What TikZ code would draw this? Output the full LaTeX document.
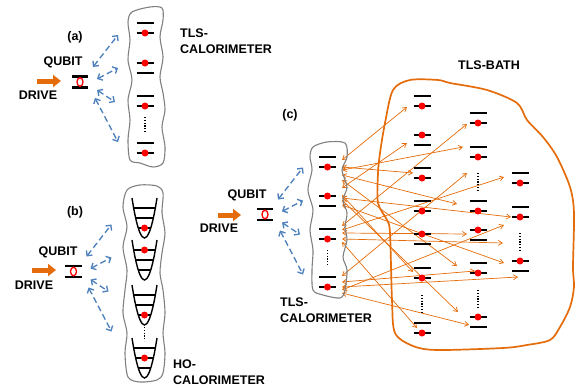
\documentclass[tikz,border=0pt]{standalone}
\usepackage{fontspec}
\setmainfont{Liberation Sans}
\usetikzlibrary{positioning,arrows.meta}

\definecolor{driveorange}{RGB}{228,108,10}
\definecolor{couplingblue}{RGB}{79,129,189}
\definecolor{blobgray}{RGB}{128,128,128}

\tikzset{
  lbl/.style={font=\fontsize{12.5}{16.5}\selectfont\bfseries, inner sep=0pt},
  level/.style={line width=2.7pt},
  well/.style={line width=1.4pt},
  gap/.style={line width=1.7pt, dash pattern=on 1.2pt off 1.6pt},
  coupling/.style={{Straight Barb[length=3.8pt,width=7.5pt]}-{Straight Barb[length=3.8pt,width=7.5pt]},
    couplingblue, line width=1.35pt, dash pattern=on 6pt off 3.5pt},
  exchange/.style={{Straight Barb[length=4pt,width=5pt]}-{Straight Barb[length=4pt,width=5pt]},
    driveorange, line width=0.7pt},
  pump/.style={-{Triangle[length=8pt,width=12pt]}, driveorange, line width=5pt},
  blob/.style={blobgray, line width=1.1pt},
  bathline/.style={driveorange, line width=1.7pt},
}

% pair of levels: name, x, y of upper level, dot on upper (0) or lower (1)
\newcommand{\tlspair}[4]{%
  \coordinate (#1) at (#2,#3+5);
  \draw[level] (#2-8.5,#3) -- (#2+8.5,#3);
  \draw[level] (#2-8.5,#3+10) -- (#2+8.5,#3+10);
  \fill[red] (#2,#3+10*#4) circle (3.5);
}
% oscillator well: x, top, occupied level (1..3)
\newcommand{\howell}[3]{%
  \draw[well] (#1-12.5,#2) parabola bend (#1,#2+40) (#1+12.5,#2);
  \foreach \dd in {10,20,30}
    \draw[well] ({#1-12.5*sqrt((40-\dd)/40)},#2+\dd) -- ({#1+12.5*sqrt((40-\dd)/40)},#2+\dd);
  \fill[red] (#1,#2+10*#3) circle (3.5);
}
\newcommand{\levelgap}[3]{\draw[gap] (#1,#2) -- (#1,#3);}
% qubit with its four couplings
\newcommand{\qubit}[3]{%
  \node (#1) at (#2,#3) [minimum width=16pt, minimum height=10.5pt, inner sep=0pt] {};
  \draw[level] (#1.north west) -- (#1.north east);
  \draw[level] (#1.south west) -- (#1.south east);
  \draw[red, line width=1.3pt] (#1.center) ellipse (3 and 4.3);
  \foreach \sx/\sy/\ex/\ey [count=\i] in {13/-15/38/-47, 17/-3/38/-14, 17/8/35/20, 15/16/38/60}{
    \coordinate (#1-s\i) at ([shift={(\sx,\sy)}]#1.center);
    \coordinate (#1-e\i) at ([shift={(\ex,\ey)}]#1.center);
    \draw[coupling] (#1-s\i) -- (#1-e\i);
  }
}

\begin{document}
\begin{tikzpicture}[x=1pt, y=-1pt]
  \useasboundingbox (0,0) rectangle (579,388);

  % (a) qubit and TLS calorimeter
  \node[lbl] (a-lbl) at (75,37) {(a)};
  \qubit{qa}{80}{82}
  \node[lbl] (qa-lbl) at (63,62) {QUBIT};
  \coordinate (da-tail) at (37,81);
  \coordinate (da-tip) at (61,81);
  \draw[pump] (da-tail) -- (da-tip);
  \node[lbl] (da-lbl) at (38,95) {DRIVE};
  \draw[blob] plot[smooth cycle] coordinates {(132,12) (150,7) (162,8) (163,20) (160,37)
    (163,57) (160,77) (163,93) (165,110) (162,127) (165,147) (163,163) (153,167)
    (140,163) (130,160) (128,140) (130,120) (128,100) (132,80) (128,60) (130,40) (128,22)};
  \tlspair{ca1}{145}{23}{1}
  \tlspair{ca2}{145}{63}{0}
  \tlspair{ca3}{145}{96}{1}
  \levelgap{145}{117}{133}
  \tlspair{ca4}{145}{143}{1}
  \node[lbl, align=left, anchor=north west] (ca-lbl) at (180,28.5) {TLS-\\CALORIMETER};

  % (b) qubit and oscillator calorimeter
  \node[lbl] (b-lbl) at (75,212) {(b)};
  \qubit{qb}{73.5}{271.5}
  \node[lbl] (qb-lbl) at (58,252) {QUBIT};
  \coordinate (db-tail) at (32,270);
  \coordinate (db-tip) at (56,270);
  \draw[pump] (db-tail) -- (db-tip);
  \node[lbl] (db-lbl) at (34,285) {DRIVE};
  \draw[blob] plot[smooth cycle] coordinates {(127,190) (140,185) (157,186) (163,193)
    (162,213) (165,233) (162,253) (160,273) (163,290) (165,313) (163,333) (165,353)
    (163,373) (157,380) (140,382) (128,377) (125,353) (127,333) (123,313) (125,290)
    (127,270) (123,247) (127,227) (123,207)};
  \howell{144.5}{198}{3}
  \howell{144.5}{240}{1}
  \howell{144.5}{285}{3}
  \levelgap{144.5}{327}{341}
  \howell{144.5}{338}{2}
  \node[lbl, align=left, anchor=north west] (cb-lbl) at (173,359.5) {HO-\\CALORIMETER};

  % (c) qubit, TLS calorimeter and TLS bath
  \node[lbl] (c-lbl) at (290,115) {(c)};
  \qubit{qc}{265}{214.5}
  \node[lbl] (qc-lbl) at (247,195) {QUBIT};
  \coordinate (dc-tail) at (218,215);
  \coordinate (dc-tip) at (241,215);
  \draw[pump] (dc-tail) -- (dc-tip);
  \node[lbl] (dc-lbl) at (219,228) {DRIVE};

  \foreach \cy/\bx/\by [count=\i] in {160/407/107, 188/407/143, 167/413/173, 170/463/147,
      226/467/124, 276/467/173, 230/504/177, 175/457/204, 198/511/217, 290/504/225,
      233/467/234, 239/503/243, 205/504/263, 180/457/266, 282/475/271, 287/518/277,
      200/458/312, 293/469/325, 242/417/328, 195/413/272}{
    \coordinate (cl\i) at (342,\cy);
    \coordinate (bt\i) at (\bx,\by);
    \draw[exchange] (cl\i) -- (bt\i);
  }

  \draw[blob] plot[smooth cycle] coordinates {(313,147) (327,142) (345,143) (347,157)
    (342,170) (347,187) (343,200) (347,213) (345,227) (347,240) (343,257) (347,270)
    (345,290) (340,298) (323,295) (313,290) (312,270) (313,250) (310,230) (313,210)
    (308,190) (312,170) (310,157)};
  \tlspair{cc1}{327.5}{157}{1}
  \tlspair{cc2}{327.5}{196}{0}
  \tlspair{cc3}{327.5}{229}{1}
  \levelgap{327.5}{250}{266}
  \tlspair{cc4}{327.5}{277}{1}
  \node[lbl, align=left, anchor=north west] (cc-lbl) at (280,297.5) {TLS-\\CALORIMETER};

  \draw[bathline] plot[smooth cycle] coordinates {(393,90) (410,80) (438,80) (450,83)
    (487,90) (517,103) (527,120) (543,137) (557,157) (570,187) (574,213) (573,267)
    (574,287) (570,307) (560,327) (550,340) (527,345) (503,348) (437,350) (413,346)
    (395,333) (392,300) (390,233) (387,220) (378,203) (378,173) (380,153) (385,123)};
  \node[lbl] (bath-lbl) at (489,65) {TLS-BATH};
  \tlspair{ba1}{422}{96}{1}
  \tlspair{ba2}{422}{135}{0}
  \tlspair{ba3}{422}{168}{1}
  \tlspair{ba4}{422}{201}{1}
  \tlspair{ba5}{422}{234}{0}
  \tlspair{ba6}{422}{268}{1}
  \levelgap{422}{295}{312}
  \tlspair{ba7}{422}{323}{1}
  \tlspair{bb1}{478}{113}{1}
  \tlspair{bb2}{478}{147}{1}
  \levelgap{478}{173}{190}
  \tlspair{bb3}{478}{201}{1}
  \tlspair{bb4}{478}{230}{0}
  \tlspair{bb5}{478}{263}{1}
  \levelgap{478}{290}{307}
  \tlspair{bb6}{478}{317}{0}
  \tlspair{bc1}{520}{173}{1}
  \tlspair{bc2}{520}{207}{1}
  \levelgap{520}{233}{250}
  \tlspair{bc3}{520}{261}{0}
\end{tikzpicture}
\end{document}
